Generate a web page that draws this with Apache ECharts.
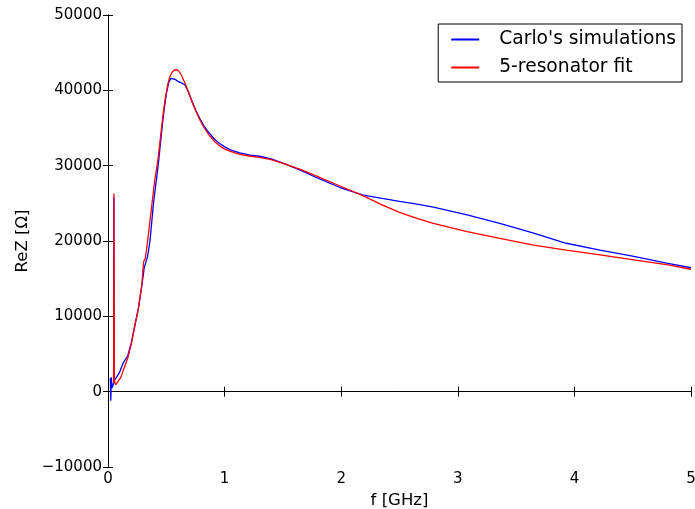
<!DOCTYPE html>
<html>
<head>
<meta charset="utf-8">
<script src="https://cdn.jsdelivr.net/npm/echarts@6/dist/echarts.min.js"></script>
<style>html,body{margin:0;padding:0;background:#fff}#c{width:695px;height:509px}</style>
</head>
<body>
<div id="c"></div>
<script>
// Carlo's simulations (blue)
var freqSim = [0.020,0.024,0.028,0.034,0.042,0.048,0.050,0.053,0.060,0.075,0.10,0.13,0.17,0.20,0.23,0.26,0.29,0.31,0.325,0.34,0.36,0.39,0.43,0.46,0.48,0.50,0.52,0.54,0.555,0.575,0.60,0.63,0.66,0.69,0.72,0.755,0.79,0.83,0.87,0.92,0.96,1.00,1.05,1.13,1.22,1.30,1.40,1.50,1.65,1.79,1.99,2.19,2.35,2.50,2.65,2.79,3.08,3.36,3.65,3.93,4.22,4.51,4.79,5.00];
var reSim   = [1800,-1200,1900,500,800,1200,25800,2000,1600,1650,2600,3800,4800,6500,8800,11000,14000,16400,16200,18000,20000,25000,30000,34500,37300,39500,41000,41600,41700,41450,41200,41000,40700,39800,38600,37300,36200,35100,34300,33400,32900,32500,32100,31700,31400,31250,30900,30350,29400,28400,27100,26100,25650,25250,24900,24500,23460,22350,21030,19700,18800,17950,17050,16450];
// 5-resonator fit (red)
var freqFit = [0.048,0.051,0.054,0.065,0.08,0.11,0.14,0.17,0.20,0.23,0.26,0.29,0.305,0.32,0.34,0.37,0.40,0.43,0.47,0.49,0.51,0.53,0.55,0.57,0.59,0.61,0.63,0.65,0.67,0.70,0.72,0.755,0.79,0.83,0.87,0.92,0.96,1.00,1.05,1.13,1.22,1.30,1.40,1.50,1.65,1.79,1.99,2.19,2.35,2.50,2.65,2.79,3.08,3.36,3.65,3.93,4.22,4.51,4.79,5.00];
var reFit   = [1200,26300,1500,900,1000,1900,3200,4500,6300,8700,11000,14200,17200,17700,20000,24000,28000,31000,36500,38800,40600,41800,42400,42700,42750,42500,42000,41300,40600,39300,38500,37200,36000,34900,34000,33100,32600,32200,31900,31500,31250,31100,30800,30300,29500,28600,27300,26000,24800,23800,23000,22350,21250,20350,19450,18800,18150,17500,16850,16250];
var seriesNames = ["Carlo's simulations", "5-resonator fit"];
var xTicks = [0,1,2,3,4,5];
var yTicks = [-10000,0,10000,20000,30000,40000,50000];

function pairs(xs, ys){ return xs.map(function(x,i){ return [x, ys[i]]; }); }

var chart = echarts.init(document.getElementById('c'), null, {renderer:'canvas'});
var font = 'DejaVu Sans';
var lineAxis = {lineStyle:{color:'#000', width:1}};
var tick = {show:true, inside:true, length:5, lineStyle:{color:'#000', width:1}};
chart.setOption({
  animation:false,
  backgroundColor:'#fff',
  grid:{left:108, right:4, top:15, bottom:42, containLabel:false, outerBoundsMode:'none'},
  legend:{
    data:seriesNames, right:13, top:24, orient:'vertical',
    borderColor:'#000', borderWidth:1, backgroundColor:'#fff', borderRadius:0,
    padding:[6,6,5,13], itemWidth:28, itemHeight:2, itemGap:9, icon:'rect',
    textStyle:{fontFamily:font, fontSize:18.7, color:'#000', padding:[0,0,0,15]}
  },
  xAxis:[{
    type:'value', min:xTicks[0], max:xTicks[xTicks.length-1], interval:1, position:'bottom',
    name:'f [GHz]', nameLocation:'middle', nameGap:24,
    nameTextStyle:{fontFamily:font, fontSize:16.5, color:'#000'},
    axisLine:lineAxis, axisTick:tick, splitLine:{show:false},
    axisLabel:{fontFamily:font, fontSize:15, color:'#000', margin:5, showMaxLabel:true, showMinLabel:true}
  },{
    type:'value', min:xTicks[0], max:xTicks[xTicks.length-1], interval:1, position:'top',
    axisLine:lineAxis, axisTick:tick, splitLine:{show:false}, axisLabel:{show:false}
  }],
  yAxis:[{
    type:'value', min:yTicks[0], max:yTicks[yTicks.length-1], interval:10000, position:'left',
    name:'ReZ [Ω]', nameLocation:'middle', nameGap:69,
    nameTextStyle:{fontFamily:font, fontSize:16.5, color:'#000'},
    axisLine:lineAxis, axisTick:tick, splitLine:{show:false},
    axisLabel:{fontFamily:font, fontSize:15, color:'#000', margin:6,
      formatter:function(v){ return v<0 ? '\u2212'+Math.abs(v) : String(v); }}
  },{
    type:'value', min:yTicks[0], max:yTicks[yTicks.length-1], interval:10000, position:'right',
    axisLine:lineAxis, axisTick:tick, splitLine:{show:false}, axisLabel:{show:false}
  }],
  series:[{
    name:seriesNames[0], type:'line', data:pairs(freqSim, reSim), showSymbol:false, symbol:'none',
    smooth:false, lineStyle:{color:'#0000ff', width:1.3}, itemStyle:{color:'#0000ff'}, z:2
  },{
    name:seriesNames[1], type:'line', data:pairs(freqFit, reFit), showSymbol:false, symbol:'none',
    smooth:false, lineStyle:{color:'#ff0000', width:1.3}, itemStyle:{color:'#ff0000'}, z:3
  }]
});
</script>
</body>
</html>
